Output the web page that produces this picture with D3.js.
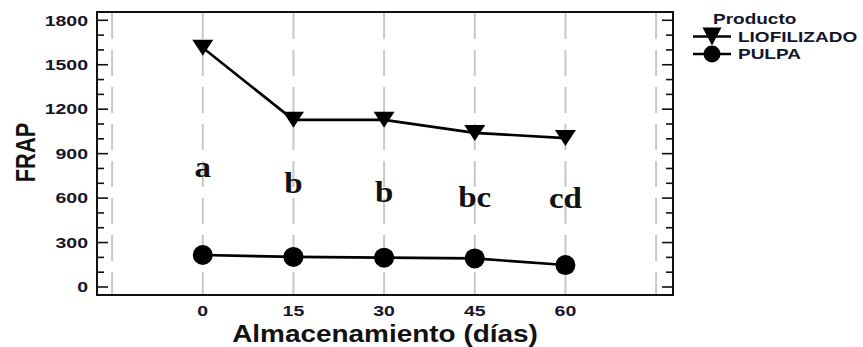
<!DOCTYPE html>
<html>
<head>
<meta charset="utf-8">
<script src="https://cdn.jsdelivr.net/npm/d3@7"></script>
<style>
  html, body { margin: 0; padding: 0; background: #fff; }
  svg { display: block; }
  text { font-family: "Liberation Sans", Arial, sans-serif; font-weight: bold; }
</style>
</head>
<body>
<svg id="chart" width="863" height="347"></svg>
<script>
// ---- data ----
const days = [0, 15, 30, 45, 60];
const liofilizado = [1615, 1128, 1128, 1040, 1005];
const pulpa = [216, 203, 198, 193, 148];
const groupLetters = ["a", "b", "b", "bc", "cd"];
const letterLevels = [742, 634, 573, 540, 532];
const yTickLabels = [0, 300, 600, 900, 1200, 1500, 1800];
const xTickLabels = [0, 15, 30, 45, 60];
const gridDays = [-15, 0, 15, 30, 45, 60, 75];
const seriesNames = ["LIOFILIZADO", "PULPA"];

// ---- layout ----
const svg = d3.select("#chart");
const L = 97, R = 673, T = 12, B = 295;
const ky = 0.76; // vertical squash of the original raster

const x = d3.scaleLinear().domain([-17.5, 77.8]).range([L, R]);
const y = d3.scaleLinear().domain([-54, 1856]).range([B, T]);

// grid dashed lines
svg.append("g").selectAll("line").data(gridDays).join("line")
  .attr("x1", d => x(d)).attr("x2", d => x(d))
  .attr("y1", T + 1).attr("y2", B)
  .attr("stroke", "#c8c8c8").attr("stroke-width", 2)
  .attr("stroke-dasharray", "26 11");

// frame
svg.append("rect").attr("x", L).attr("y", T).attr("width", R - L).attr("height", B - T)
  .attr("fill", "none").attr("stroke", "#111").attr("stroke-width", 2);

// y ticks (every 100, major every 300), inward on both sides
const allTicks = d3.range(0, 1801, 100);
const tg = svg.append("g");
tg.selectAll("line.l").data(allTicks).join("line").attr("class", "l")
  .attr("x1", L).attr("x2", d => L + (d % 300 === 0 ? 11 : 7))
  .attr("y1", d => y(d)).attr("y2", d => y(d))
  .attr("stroke", "#111").attr("stroke-width", 1.6);
tg.selectAll("line.r").data(allTicks).join("line").attr("class", "r")
  .attr("x1", R).attr("x2", d => R - (d % 300 === 0 ? 11 : 7))
  .attr("y1", d => y(d)).attr("y2", d => y(d))
  .attr("stroke", "#111").attr("stroke-width", 1.6);

function sText(g, str, px, py, size, anchor, color, k, kx) {
  return g.append("text")
    .attr("transform", `translate(${px},${py}) scale(${kx || 1},${k === undefined ? ky : k})`)
    .attr("text-anchor", anchor).attr("font-size", size)
    .attr("fill", color || "#15152a").text(str);
}

// y tick labels
yTickLabels.forEach(v => sText(svg, v, 88, y(v) + 5.3, 19.5, "end"));
// x tick labels
xTickLabels.forEach(v => sText(svg, v, x(v), 316, 19.5, "middle"));

// axis titles
sText(svg, "Almacenamiento (días)", (L + R) / 2, 341.5, 27, "middle", "#111", 0.9, 1.035);
svg.append("text")
  .attr("transform", `translate(35,${152.5}) rotate(-90) scale(0.78,1)`)
  .attr("text-anchor", "middle").attr("font-size", 28).attr("fill", "#111").text("FRAP");

// lines
const line = d3.line().x((d, i) => x(days[i])).y(d => y(d));
svg.append("path").datum(liofilizado).attr("d", line)
  .attr("fill", "none").attr("stroke", "#000").attr("stroke-width", 2.6);
svg.append("path").datum(pulpa).attr("d", line)
  .attr("fill", "none").attr("stroke", "#000").attr("stroke-width", 2.6);

// markers
const tri = (w, h) => `M${-w / 2},${-h / 2}L${w / 2},${-h / 2}L0,${h / 2}Z`;
svg.append("g").selectAll("path").data(liofilizado).join("path")
  .attr("transform", (d, i) => `translate(${x(days[i])},${y(d)})`)
  .attr("d", tri(21, 16)).attr("fill", "#000");
svg.append("g").selectAll("circle").data(pulpa).join("circle")
  .attr("cx", (d, i) => x(days[i])).attr("cy", d => y(d)).attr("r", 10)
  .attr("fill", "#000");

// group letters (serif)
groupLetters.forEach((s, i) => {
  sText(svg, s, x(days[i]), y(letterLevels[i]), 33, "middle", "#111", 0.9)
    .style("font-family", "'Liberation Serif', 'Times New Roman', serif");
});

// legend
const lg = svg.append("g");
sText(lg, "Producto", 713, 24, 19, "start", "#15152a");
const rows = [36.5, 54];
seriesNames.forEach((n, i) => {
  lg.append("line").attr("x1", 693).attr("x2", 731).attr("y1", rows[i]).attr("y2", rows[i])
    .attr("stroke", "#000").attr("stroke-width", 2.6);
  sText(lg, n, 738, rows[i] + 5, 19, "start", "#15152a");
});
lg.append("path").attr("transform", `translate(712,${rows[0]})`).attr("d", tri(19, 18)).attr("fill", "#000");
lg.append("circle").attr("cx", 712).attr("cy", rows[1]).attr("r", 8.5).attr("fill", "#000");
</script>
</body>
</html>
